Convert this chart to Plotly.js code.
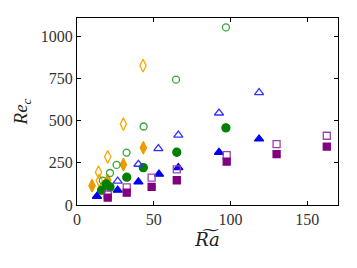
<!DOCTYPE html>
<html><head><meta charset="utf-8">
<script src="https://cdn.plot.ly/plotly-3.0.1.min.js"></script>
<style>html,body{margin:0;padding:0;background:#fff}#c{width:357px;height:268px}</style>
</head><body><div id="c"></div>
<script>
// Orange diamonds
const diamondOpenX = [14, 14.5, 20, 30.2, 43];
const diamondOpenY = [195, 145, 286, 480, 827];
const diamondFillX = [9.8, 20, 30.2, 43.2];
const diamondFillY = [115, 145, 240, 340];
// Green circles
const circleOpenX = [16.8, 21.5, 25.8, 32.3, 43.4, 64.5, 97];
const circleOpenY = [145, 190, 238, 311, 466, 744, 1054];
const circleFillX = [16, 19, 21.5, 32.4, 43.2, 65, 97];
const circleFillY = [88, 125, 107, 165, 222, 313, 458];
// Blue triangles
const triOpenX = [26.5, 40, 53, 66, 92.5, 118.6];
const triOpenY = [142, 242, 335, 415, 546, 667];
const triFillX = [13, 26.5, 40, 53.4, 66, 92.5, 118.6];
const triFillY = [52, 88, 137, 183, 222, 313, 392];
// Purple squares
const sqOpenX = [20, 32.4, 48.6, 65, 97.5, 130, 162.7];
const sqOpenY = [62, 105, 163, 212, 296, 361, 411];
const sqFillX = [20, 32.4, 48.6, 65, 97.5, 130, 162.7];
const sqFillY = [44, 73, 107, 147, 258, 302, 347];

function tr(x, y, symbol, color, size) {
  return {x: x, y: y, type: 'scatter', mode: 'markers', showlegend: false,
    marker: {symbol: symbol, color: color, size: size, line: {color: color, width: 1.3}}};
}
const data = [
  tr(diamondOpenX, diamondOpenY, 'diamond-tall-open', '#FFA500', 9),
  tr(diamondFillX, diamondFillY, 'diamond-tall', '#EE9A00', 9),
  tr(circleOpenX, circleOpenY, 'circle-open', '#33A533', 7),
  tr(circleFillX, circleFillY, 'circle', '#008000', 8),
  tr(triOpenX, triOpenY, 'triangle-up-open', '#3333FF', 8),
  tr(triFillX, triFillY, 'triangle-up', '#0000EE', 8),
  tr(sqOpenX, sqOpenY, 'square-open', '#A040B0', 7),
  tr(sqFillX, sqFillY, 'square', '#800080', 7)
];
const SERIF = "'Liberation Serif', 'DejaVu Serif', serif";
const font = {family: SERIF, size: 16, color: '#333'};
const axisCommon = {showgrid: false, zeroline: false, showline: true, linecolor: '#000', linewidth: 1,
  mirror: 'ticks', ticks: 'inside', ticklen: 4, tickcolor: '#000', tickwidth: 1, tickfont: font};
const layout = {
  width: 357, height: 268,
  margin: {l: 77, r: 19, t: 18, b: 63},
  paper_bgcolor: '#fff', plot_bgcolor: '#fff',
  font: font,
  xaxis: Object.assign({}, axisCommon, {range: [0, 170], tickvals: [0, 50, 100, 150],
    title: {text: '<i>R\u0360a</i>', font: {family: "'DejaVu Serif', serif", size: 18, color: '#222'}, standoff: 6}}),
  yaxis: Object.assign({}, axisCommon, {range: [0, 1110], tickvals: [0, 250, 500, 750, 1000],
    title: {text: '<i>Re<sub>c</sub></i>', font: {family: SERIF, size: 19, color: '#222'}, standoff: 8}})
};
Plotly.newPlot('c', data, layout, {staticPlot: true, displayModeBar: false});
</script></body></html>
